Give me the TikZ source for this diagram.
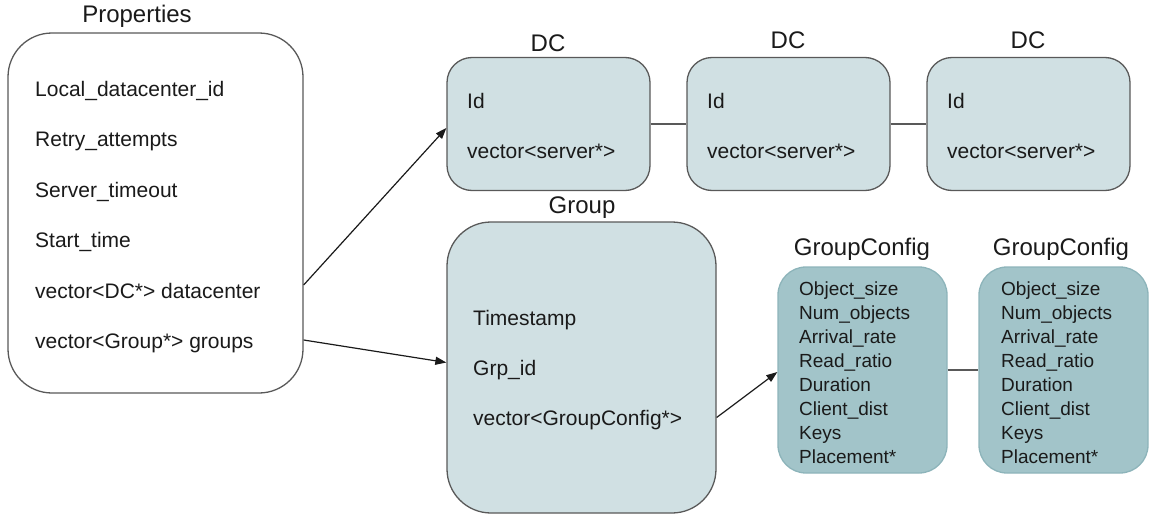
\documentclass[tikz,border=0pt]{standalone}
\usepackage{fontspec}
\setmainfont{Liberation Sans}
\usetikzlibrary{arrows.meta}
\definecolor{boxline}{HTML}{595959}
\definecolor{paleblue}{HTML}{D0E0E3}
\definecolor{tealfill}{HTML}{A2C4C9}
\definecolor{tealline}{HTML}{8DB4BA}
\definecolor{ink}{HTML}{1A1A1A}
\tikzset{
  card/.style={draw=boxline, line width=1.3pt, rectangle, inner sep=0pt},
  dccard/.style={card, fill=paleblue, rounded corners=25pt, minimum width=203pt, minimum height=133pt},
  grpcard/.style={card, fill=paleblue, rounded corners=44pt, minimum width=269pt, minimum height=291pt},
  cfgcard/.style={card, draw=tealline, fill=tealfill, rounded corners=28pt, minimum width=169pt, minimum height=206pt},
  propcard/.style={card, fill=white, rounded corners=44pt, minimum width=295pt, minimum height=360pt},
  title/.style={anchor=base, inner sep=0pt, text=ink, font=\fontsize{24}{28}\selectfont},
  field/.style={anchor=base west, inner sep=0pt, text=ink, font=\fontsize{21}{25}\selectfont},
  cfgfield/.style={anchor=base west, inner sep=0pt, text=ink, font=\fontsize{19}{23}\selectfont},
  link/.style={draw=boxline, line width=1.3pt},
  pointer/.style={draw=ink, line width=1.2pt, -{Triangle[length=11pt,width=8pt]}},
}
\begin{document}
\begin{tikzpicture}[x=1pt, y=-1pt]
\useasboundingbox (0,0) rectangle (1149,514);

% Properties record
\node[propcard] (props) at (155.5,213) {};
\node[title] (propsT) at (137,22) {Properties};
\node[field] (pf1) at (35,96) {Local\_datacenter\_id};
\node[field] (pf2) at (35,146.5) {Retry\_attempts};
\node[field] (pf3) at (35,197) {Server\_timeout};
\node[field] (pf4) at (35,247.5) {Start\_time};
\node[field] (pf5) at (35,298) {vector<DC*> datacenter};
\node[field] (pf6) at (35,348.5) {vector<Group*> groups};

% Datacenter records
\node[dccard] (dc1) at (548.5,124) {};
\node[dccard] (dc2) at (788.5,124) {};
\node[dccard] (dc3) at (1028.5,124) {};
\node[title] (dc1T) at (548,51) {DC};
\node[title] (dc2T) at (788,48) {DC};
\node[title] (dc3T) at (1028,48) {DC};
\foreach \n/\x in {1/467, 2/707, 3/947}{
  \node[field] (dcid\n) at (\x,108) {Id};
  \node[field] (dcsv\n) at (\x,158) {vector<server*>};
}

% Group record
\node[grpcard] (group) at (581.5,367.5) {};
\node[title] (groupT) at (582,213) {Group};
\node[field] (gf1) at (473,325) {Timestamp};
\node[field] (gf2) at (473,375) {Grp\_id};
\node[field] (gf3) at (473,425) {vector<GroupConfig*>};

% GroupConfig records
\node[cfgcard] (gc1) at (862.5,370) {};
\node[cfgcard] (gc2) at (1063.5,370) {};
\node[title] (gc1T) at (862,255) {GroupConfig};
\node[title] (gc2T) at (1061,255) {GroupConfig};
\foreach \n/\x in {1/799, 2/1001}{
  \foreach \t [count=\i from 0] in {Object\_size, Num\_objects, Arrival\_rate, Read\_ratio,
      Duration, Client\_dist, Keys, Placement*}{
    \node[cfgfield] (cf\n-\i) at (\x,295+24*\i) {\t};
  }
}

% Links between sibling records
\draw[link] (dc1.east) -- (dc2.west);
\draw[link] (dc2.east) -- (dc3.west);
\draw[link] (gc1.east) -- (gc2.west);

% Pointers
\draw[pointer] ([yshift=-72pt]props.east) -- ([yshift=-4pt]dc1.west);
\draw[pointer] ([yshift=-127pt]props.east) -- ([yshift=5pt]group.west);
\draw[pointer] ([yshift=-50pt]group.east) -- ([yshift=-2pt]gc1.west);
\end{tikzpicture}
\end{document}
